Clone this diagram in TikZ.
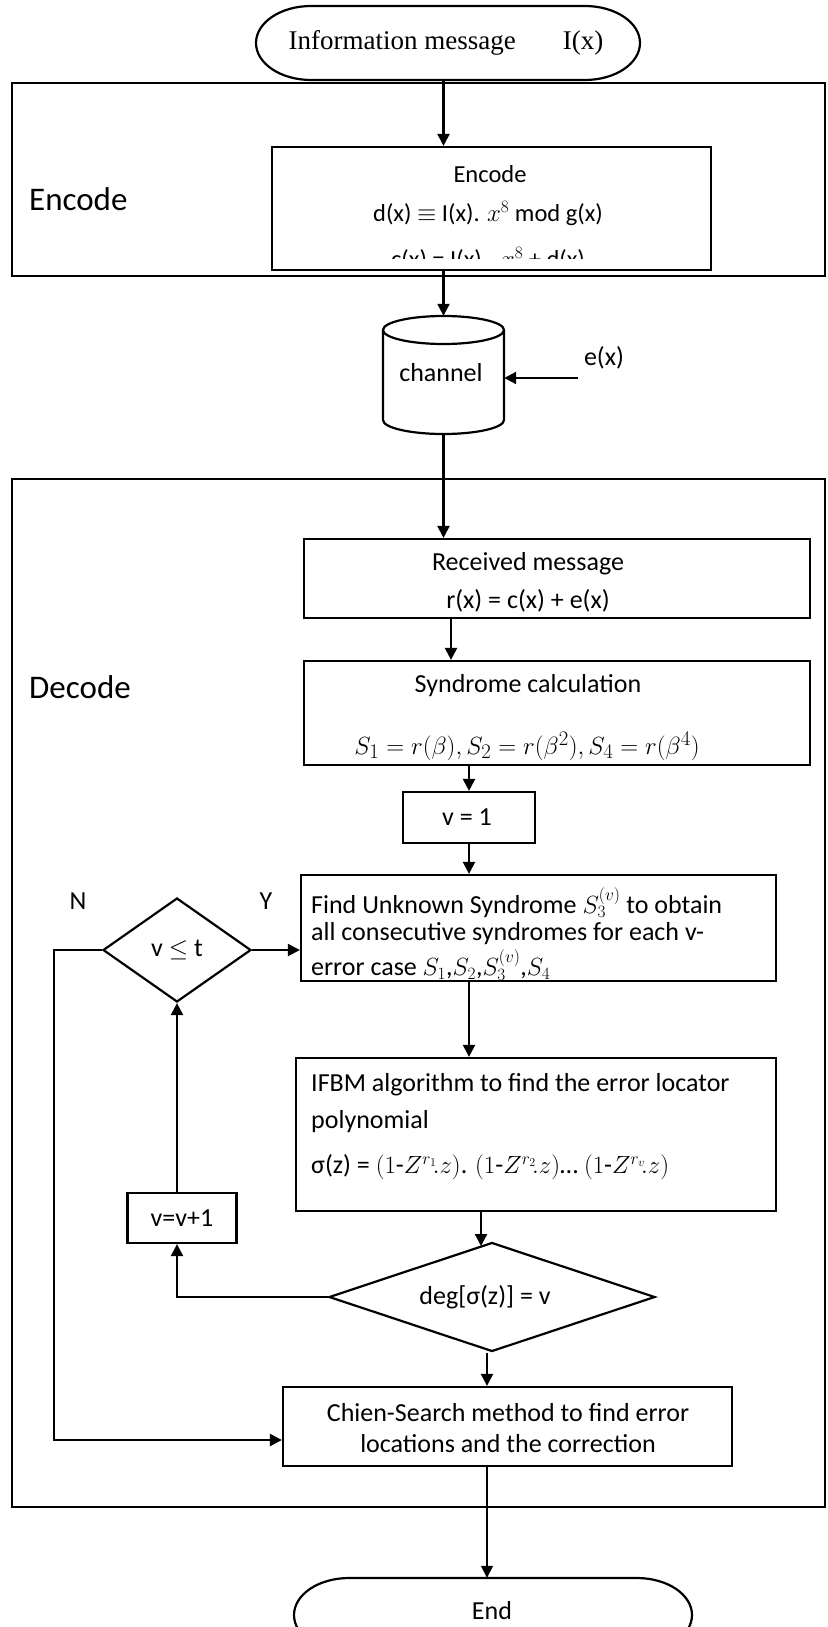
\documentclass[tikz,border=0pt]{standalone}
\usepackage{fontspec}
\setmainfont{Carlito}
\newfontfamily\tms{Liberation Serif}
\usetikzlibrary{arrows.meta,shapes.geometric,calc}
\begin{document}
\begin{tikzpicture}[x=1pt,y=-1pt,
  box/.style={draw,line width=2.2pt,rectangle,inner sep=0pt},
  framebox/.style={draw,line width=1.7pt,rectangle,inner sep=0pt},
  ghost/.style={rectangle,inner sep=0pt},
  dia/.style={draw,line width=2.2pt,diamond,inner sep=0pt},
  arr/.style={line width=2.2pt,-{Triangle[length=12pt,width=12pt]}},
  thinarr/.style={line width=1.5pt,-{Triangle[length=12pt,width=12pt]}},
  ln/.style={line width=2.2pt},
  txt/.style={font=\fontsize{26}{30}\selectfont,inner sep=0pt},
  enctxt/.style={font=\fontsize{24.5}{28}\selectfont,inner sep=0pt},
  big/.style={font=\fontsize{33}{38}\selectfont,inner sep=0pt,anchor=west},
  lt/.style={txt,anchor=west}]
\useasboundingbox (0,0) rectangle (827,1627);

% ---- start oval
\draw[ln] (311,6) -- (585,6) arc[start angle=-90,end angle=90,x radius=55,y radius=37]
  -- (311,80) arc[start angle=90,end angle=270,x radius=55,y radius=37] -- cycle;
\node[ghost,minimum width=384pt,minimum height=74pt] (start) at (448,43) {};
\node[inner sep=0pt,font=\fontsize{27}{30}\tms] (starttxt) at (446,43) {Information message\hspace{47pt}I(x)};

% ---- encode frame
\node[framebox,minimum width=813pt,minimum height=193pt] (encframe) at (418.5,179.5) {};
\node[big] (enclabel) at (29,199) {Encode};
\node[box,minimum width=439pt,minimum height=123pt] (enc) at (491.5,208.5) {};
\node[enctxt] (enc1) at (490,174) {Encode};
\node[enctxt] (enc2) at (488,214) {d(x) $\equiv$ I(x). $x^{8}$ mod g(x)};
\begin{scope}
  \clip (272,147) rectangle (711,258);
  \node[enctxt] (enc3) at (488,259) {c(x) = I(x) . $x^{8}$ + d(x)};
\end{scope}

% ---- channel
\node[ghost,minimum width=121pt,minimum height=118pt] (chan) at (443.5,375) {};
\draw[ln] (383,330) -- (383,420) arc[start angle=180,end angle=0,x radius=60.5,y radius=14] -- (504,330);
\draw[ln] (443.5,330) ellipse[x radius=60.5,y radius=14];
\node[txt] (chantxt) at (441,373) {channel};
\node[txt] (extxt) at (604,358) {e(x)};
\coordinate (ex) at (578,378);

% ---- decode frame
\node[framebox,minimum width=813pt,minimum height=1028pt] (decframe) at (418.5,993) {};
\node[big] (declabel) at (29,687) {Decode};

\node[box,minimum width=506pt,minimum height=79pt] (recv) at (557,578.5) {};
\node[txt] (recv1) at (528,564) {Received message};
\node[txt] (recv2) at (528,601) {r(x) = c(x) + e(x)};

\node[txt] (synd1) at (528,686) {Syndrome calculation};
\node[txt,font=\fontsize{28.5}{32}\selectfont] (synd2) at (527,746) {$S_1 = r(\beta), S_2 = r(\beta^2), S_4 = r(\beta^4)$};
\node[box,minimum width=506pt,minimum height=104pt] (synd) at (557,713) {};

\node[box,minimum width=132pt,minimum height=51pt] (vone) at (469,817.5) {};
\node[txt] (vonetxt) at (467,817.5) {v = 1};

\node[box,minimum width=475pt,minimum height=106pt] (find) at (538.5,928) {};
\node[lt] (find1) at (311,903) {Find Unknown Syndrome $S_3^{(v)}$ to obtain};
\node[lt] (find2) at (311,934) {all consecutive syndromes for each v-};
\node[lt] (find3) at (311,965) {error case $S_1$,$S_2$,$S_3^{(v)}$,$S_4$};

\node[dia,minimum width=148pt,minimum height=104pt] (vle) at (177,950) {};
\node[txt] (vletxt) at (177,950) {v $\leq$ t};
\node[txt] (nlab) at (78,901) {N};
\node[txt] (ylab) at (266,901) {Y};

\node[box,minimum width=480pt,minimum height=153pt] (ifbm) at (536,1134.5) {};
\node[lt] (ifbm1) at (311,1085) {IFBM algorithm to find the error locator};
\node[lt] (ifbm2) at (311,1122) {polynomial};
\node[lt] (ifbm3) at (311,1167) {σ(z) = $(1\mbox{-}Z^{r_1}\!.z)$. $(1\mbox{-}Z^{r_2}\!.z)$\dots\ $(1\mbox{-}Z^{r_v}\!.z)$};

\node[box,minimum width=109pt,minimum height=50pt] (vinc) at (182,1218) {};
\node[txt] (vinctxt) at (182,1218) {v=v+1};

\node[dia,minimum width=326pt,minimum height=109pt] (deg) at (492,1297) {};
\node[txt] (degtxt) at (485,1297) {deg[σ(z)] = v};

\node[box,minimum width=449pt,minimum height=79pt] (chien) at (507.5,1426.5) {};
\node[txt] (chien1) at (508,1413) {Chien-Search method to find error};
\node[txt] (chien2) at (508,1444) {locations and the correction};

% ---- end oval
\draw[ln] (349,1578) -- (637,1578) arc[start angle=-90,end angle=90,x radius=55,y radius=37]
  -- (349,1652) arc[start angle=90,end angle=270,x radius=55,y radius=37] -- cycle;
\node[ghost,minimum width=398pt,minimum height=74pt] (endn) at (490,1615) {};
\node[txt] (endtxt) at (492,1611) {End};

% ---- connectors
\coordinate (x1) at (451,0);
\coordinate (x3) at (487,0);
\coordinate (degin) at (481,1246);
\coordinate (nx) at (54,0);
\coordinate (ny) at (0,1440);
\draw[arr] (chan.north |- start.south) -- (chan.north |- enc.north);
\draw[arr] (chan.north |- enc.south) -- (chan.north);
\draw[arr] (ex) -- (ex -| chan.east);
\draw[arr] (chan.south) -- (chan.south |- recv.north);
\draw[arr] (x1 |- recv.south) -- (x1 |- synd.north);
\draw[arr] (vone.north |- synd.south) -- (vone.north);
\draw[arr] (vone.south) -- (vone.south |- find.north);
\draw[arr] (vone.south |- find.south) -- (vone.south |- ifbm.north);
\draw[arr] (degin |- ifbm.south) -- (degin);
\draw[arr] (deg.west) -| (vle.south |- vinc.south);
\draw[arr] (vle.south |- vinc.north) -- (vle.south);
\draw[arr] (vle.east) -- (vle.east -| find.west);
\draw[arr] (vle.west) -- (vle.west -| nx) -- (nx |- ny) -- (ny -| chien.west);
\draw[arr] (x3 |- deg.south) -- (x3 |- chien.north);
\draw[thinarr] (x3 |- chien.south) -- (x3 |- endn.north);
\end{tikzpicture}
\end{document}
